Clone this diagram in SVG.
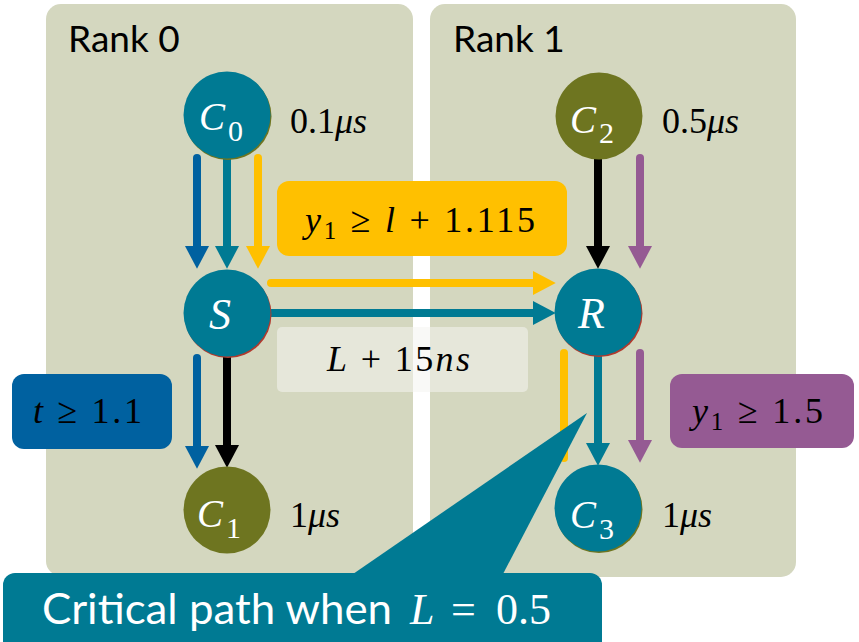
<svg xmlns="http://www.w3.org/2000/svg" width="859" height="642" viewBox="0 0 859 642">
<style>
.panel{fill:#d4d7bf}
.lbl{font-family:Lato,"Open Sans",sans-serif;font-size:37px;fill:#000}
.m{font-family:"Liberation Serif","DejaVu Serif",serif;font-size:36px;fill:#000}
.mi{font-style:italic}
.nt{font-family:"Liberation Serif","DejaVu Serif",serif;fill:#fff}
.teal{fill:#007a93}
.olive{fill:#6e7520}
.ln{fill:none;stroke-width:8;stroke-linecap:round}
</style>
<defs>
<marker id="hBlue" markerUnits="strokeWidth" markerWidth="3" markerHeight="3" refX="0" refY="1.45" orient="auto" viewBox="0 0 2.8 2.9" overflow="visible"><path d="M0,0 L2.75,1.45 L0,2.9 z" fill="#0061a0"/></marker>
<marker id="hTeal" markerUnits="strokeWidth" markerWidth="3" markerHeight="3" refX="0" refY="1.45" orient="auto" viewBox="0 0 2.8 2.9" overflow="visible"><path d="M0,0 L2.75,1.45 L0,2.9 z" fill="#007a93"/></marker>
<marker id="hYel" markerUnits="strokeWidth" markerWidth="3" markerHeight="3" refX="0" refY="1.45" orient="auto" viewBox="0 0 2.8 2.9" overflow="visible"><path d="M0,0 L2.75,1.45 L0,2.9 z" fill="#ffc000"/></marker>
<marker id="hBlk" markerUnits="strokeWidth" markerWidth="3" markerHeight="3" refX="0" refY="1.45" orient="auto" viewBox="0 0 2.8 2.9" overflow="visible"><path d="M0,0 L2.75,1.45 L0,2.9 z" fill="#000"/></marker>
<marker id="hPur" markerUnits="strokeWidth" markerWidth="3" markerHeight="3" refX="0" refY="1.45" orient="auto" viewBox="0 0 2.8 2.9" overflow="visible"><path d="M0,0 L2.75,1.45 L0,2.9 z" fill="#955a93"/></marker>
</defs>
<rect width="859" height="642" fill="#fff"/>
<g id="rank0">
<rect class="panel" x="46" y="4" width="367" height="572" rx="15"/>
<text class="lbl" x="68" y="52">Rank 0</text>
</g>
<g id="rank1">
<rect class="panel" x="430" y="4" width="366" height="573" rx="15"/>
<text class="lbl" x="453" y="52">Rank 1</text>
</g>
<g id="label-y1-l">
<rect x="277" y="181" width="290" height="75" rx="12" fill="#ffc000"/>
<text class="m" x="305" y="232" textLength="230" lengthAdjust="spacing"><tspan class="mi">y</tspan><tspan font-size="25" dy="7">1</tspan><tspan dy="-7"> ≥ </tspan><tspan class="mi">l</tspan> + 1.115</text>
</g>
<g id="label-L15ns">
<rect x="277" y="327" width="251" height="65" rx="5" fill="#f4f4f0" fill-opacity="0.55"/>
<text class="m" x="327" y="371" textLength="143" lengthAdjust="spacing"><tspan class="mi">L</tspan> + 15<tspan class="mi">ns</tspan></text>
</g>
<g id="label-t">
<rect x="12" y="374" width="160" height="75" rx="12" fill="#0061a0"/>
<text class="m" x="33" y="423" textLength="109" lengthAdjust="spacing"><tspan class="mi">t</tspan> ≥ 1.1</text>
</g>
<g id="label-y1-15">
<rect x="670" y="374" width="184" height="74" rx="12" fill="#955a93"/>
<text class="m" x="692" y="423" textLength="131" lengthAdjust="spacing"><tspan class="mi">y</tspan><tspan font-size="25" dy="7">1</tspan><tspan dy="-7"> ≥ 1.5</tspan></text>
</g>
<g id="connectors">
<line class="ln" x1="197" y1="158" x2="197" y2="246" stroke="#0061a0" marker-end="url(#hBlue)"/>
<line class="ln" x1="227" y1="156" x2="227" y2="246" stroke="#007a93" marker-end="url(#hTeal)"/>
<line class="ln" x1="258" y1="158" x2="258" y2="246" stroke="#ffc000" marker-end="url(#hYel)"/>
<line class="ln" x1="271" y1="283" x2="533" y2="283" stroke="#ffc000" marker-end="url(#hYel)"/>
<line class="ln" x1="268" y1="313" x2="533" y2="313" stroke="#007a93" stroke-linecap="butt" marker-end="url(#hTeal)"/>
<line class="ln" x1="598" y1="159" x2="598" y2="246" stroke="#000" marker-end="url(#hBlk)"/>
<line class="ln" x1="640" y1="158" x2="640" y2="246" stroke="#955a93" marker-end="url(#hPur)"/>
<line class="ln" x1="197" y1="358" x2="197" y2="446" stroke="#0061a0" marker-end="url(#hBlue)"/>
<line class="ln" x1="227" y1="354" x2="227" y2="445" stroke="#000" stroke-linecap="butt" marker-end="url(#hBlk)"/>
<line class="ln" x1="598" y1="353" x2="598" y2="443" stroke="#007a93" stroke-linecap="butt" marker-end="url(#hTeal)"/>
<line class="ln" x1="640" y1="353" x2="640" y2="440" stroke="#955a93" marker-end="url(#hPur)"/>
<line class="ln" x1="564" y1="353" x2="564" y2="458" stroke="#ffc000"/>
</g>
<g id="C0">
<circle cx="228" cy="116.5" r="43.5" fill="#6e7520"/>
<circle class="teal" cx="227" cy="115" r="43.5"/>
<text class="nt" x="199" y="130" font-size="39" font-style="italic">C</text>
<text class="nt" x="228" y="141" font-size="30">0</text>
<text class="m" x="290" y="133">0.1<tspan class="mi">μs</tspan></text>
</g>
<g id="S">
<circle cx="228" cy="314.5" r="43.5" fill="#b03a2e"/>
<circle class="teal" cx="227" cy="313" r="43.5"/>
<text class="nt" x="209" y="329" font-size="44" font-style="italic">S</text>
</g>
<g id="C1">
<circle class="olive" cx="227" cy="510" r="43.5"/>
<text class="nt" x="197" y="527" font-size="39" font-style="italic">C</text>
<text class="nt" x="226" y="538" font-size="30">1</text>
<text class="m" x="290" y="527">1<tspan class="mi">μs</tspan></text>
</g>
<g id="C2">
<circle class="olive" cx="599" cy="116" r="43.5"/>
<text class="nt" x="570" y="133" font-size="39" font-style="italic">C</text>
<text class="nt" x="599" y="143" font-size="30">2</text>
<text class="m" x="662" y="133">0.5<tspan class="mi">μs</tspan></text>
</g>
<g id="R">
<circle cx="599" cy="313.5" r="43.5" fill="#b03a2e"/>
<circle class="teal" cx="598" cy="312" r="43.5"/>
<text class="nt" x="578" y="328" font-size="44" font-style="italic">R</text>
</g>
<g id="C3">
<circle cx="599" cy="509.5" r="43.5" fill="#6e7520"/>
<circle class="teal" cx="598" cy="508" r="43.5"/>
<text class="nt" x="570" y="528" font-size="39" font-style="italic">C</text>
<text class="nt" x="599" y="539" font-size="30">3</text>
<text class="m" x="662" y="527">1<tspan class="mi">μs</tspan></text>
</g>
<g id="callout">
<path class="teal" d="M353,574 L587,413 L503,574 Z"/>
<rect class="teal" x="3" y="573" width="599" height="85" rx="12"/>
<text x="42" y="624" font-family="Lato,'Open Sans',sans-serif" font-size="42" fill="#fff" textLength="350" lengthAdjust="spacingAndGlyphs">Critical path when</text>
<text class="nt" x="410" y="624" font-size="44" font-style="italic">L</text>
<text class="nt" x="451" y="624" font-size="44">=</text>
<text class="nt" x="496" y="624" font-size="44">0.5</text>
</g>
</svg>
